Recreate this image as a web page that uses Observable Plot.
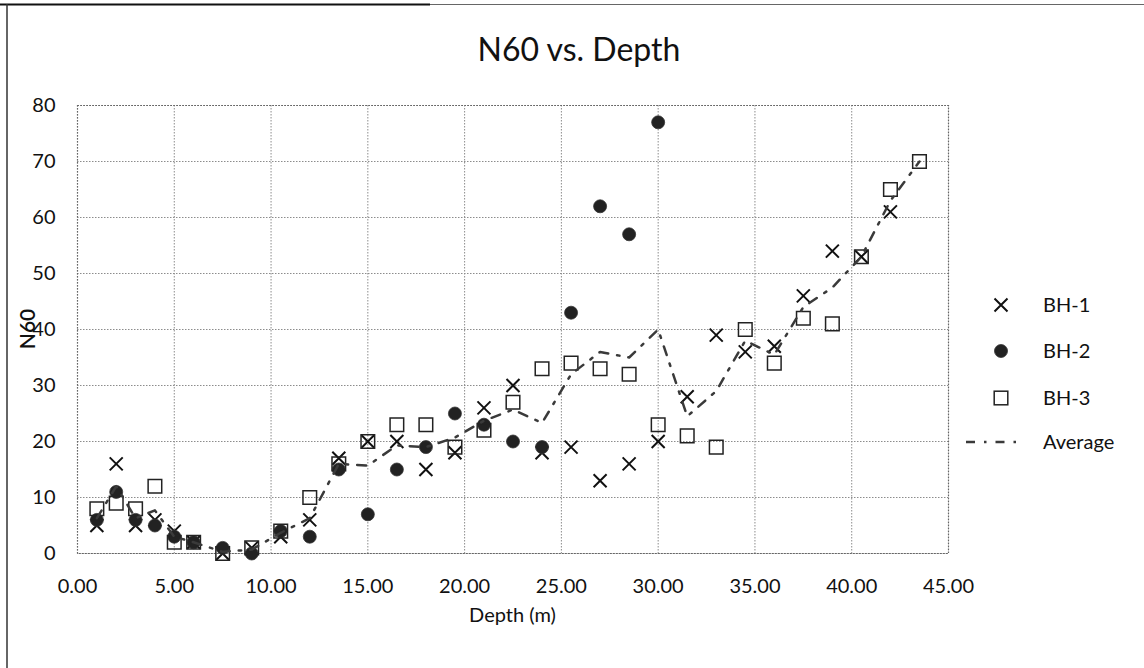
<!DOCTYPE html>
<html><head><meta charset="utf-8">
<script src="https://cdn.jsdelivr.net/npm/d3@7"></script>
<script src="https://cdn.jsdelivr.net/npm/@observablehq/plot@0.6"></script>
<style>
body{margin:0;background:#fff;}
#wrap{position:relative;width:1144px;height:668px;overflow:hidden;background:#fff;}
#wrap svg{position:absolute;left:0;top:0;}
</style></head>
<body><div id="wrap"></div>
<script>
// Data
const depths = [1,2,3,4,5,6,7.5,9,10.5,12,13.5,15,16.5,18,19.5,21,22.5,24,25.5,27,28.5,30,31.5,33,34.5,36,37.5,39,40.5,42,43.5];
const bh1 = [5,16,5,6,4,2,0,1,3,6,17,20,20,15,18,26,30,18,19,13,16,20,28,39,36,37,46,54,53,61,null];
const bh2 = [6,11,6,5,3,2,1,0,4,3,15,7,15,19,25,23,20,19,43,62,57,77];
const bh3 = [8,9,8,12,2,2,0,1,4,10,16,20,23,23,19,22,27,33,34,33,32,23,21,19,40,34,42,41,53,65,70];
const avg = [6.3,12,6.3,7.7,3,2,0.3,0.7,3.7,6.3,16,15.7,19.3,19,20.7,23.7,25.7,23.3,32,36,35,40,24.5,29,38,35.5,44,47.5,53,63,70];
const xTicks = [0,5,10,15,20,25,30,35,40,45];
const yTicks = [0,10,20,30,40,50,60,70,80];
const seriesNames = ["BH-1","BH-2","BH-3","Average"];
const titleText = "N60 vs. Depth";
const xLabel = "Depth (m)";
const yLabel = "N60";

const rows = (vals) => depths.map((d,i)=>({depth:d, n:vals[i]})).filter(r=>r.n!=null && r.n!==undefined);

const timesSym = {draw(ctx,size){const r=Math.sqrt(size/Math.PI); ctx.moveTo(-r,-r);ctx.lineTo(r,r);ctx.moveTo(r,-r);ctx.lineTo(-r,r);}};
const squareSym = {draw(ctx,size){const r=Math.sqrt(size/Math.PI); ctx.moveTo(-r,-r);ctx.lineTo(r,-r);ctx.lineTo(r,r);ctx.lineTo(-r,r);ctx.closePath();}};

const FONT = "Lato, 'Open Sans', sans-serif";
const DASH = "9,9,2.5,9";

const chart = Plot.plot({
  width:1144, height:668,
  marginLeft:77, marginRight:196, marginTop:105, marginBottom:115,
  style:{fontFamily:FONT, fontSize:"20px", color:"#111", background:"transparent", overflow:"visible"},
  x:{domain:[0,45]},
  y:{domain:[0,80]},
  marks:[
    Plot.gridX(xTicks,{stroke:"#8c8c8c", strokeOpacity:1, strokeDasharray:"1.5,1.5", strokeWidth:1}),
    Plot.gridY(yTicks,{stroke:"#8c8c8c", strokeOpacity:1, strokeDasharray:"1.5,1.5", strokeWidth:1}),
    Plot.frame({stroke:"#666", strokeDasharray:"1.5,1.5", strokeWidth:1.2}),
    Plot.axisX(xTicks,{tickSize:0, tickPadding:25, tickFormat:d=>d.toFixed(2), label:null, fontSize:20}),
    Plot.axisY(yTicks,{tickSize:0, tickPadding:22, label:null, fontSize:20}),
    Plot.dot(rows(bh1),{x:"depth", y:"n", symbol:timesSym, r:6.5, fill:"none", stroke:"#111", strokeWidth:2}),
    Plot.dot(rows(bh2),{x:"depth", y:"n", symbol:"circle", r:6.5, fill:"#222", stroke:"#333", strokeWidth:0.8}),
    Plot.dot(rows(bh3),{x:"depth", y:"n", symbol:squareSym, r:6.8, fill:"none", stroke:"#222", strokeWidth:1.5}),
    Plot.line(rows(avg),{x:"depth", y:"n", stroke:"#3a3a3a", strokeWidth:2.5, strokeDasharray:DASH})
  ]
});
const wrap = document.getElementById("wrap");
wrap.appendChild(chart);

// overlay: title, axis titles, legend, outer border
const svg = d3.select(wrap).append("svg").attr("width",1144).attr("height",668)
  .style("font-family",FONT).style("pointer-events","none");
svg.append("line").attr("x1",0).attr("x2",430).attr("y1",4.5).attr("y2",4.5).attr("stroke","#111").attr("stroke-width",2);
svg.append("line").attr("x1",430).attr("x2",1144).attr("y1",4.5).attr("y2",4.5).attr("stroke","#666").attr("stroke-width",1);
svg.append("line").attr("x1",7).attr("x2",7).attr("y1",4).attr("y2",668).attr("stroke","#333").attr("stroke-width",1.5);

svg.append("text").attr("x",579).attr("y",60.5).attr("text-anchor","middle")
  .attr("font-size",32).attr("fill","#111").text(titleText);
svg.append("text").attr("x",512.5).attr("y",622).attr("text-anchor","middle")
  .attr("font-size",20).attr("fill","#111").text(xLabel);
svg.append("text").attr("transform","translate(35,329) rotate(-90)").attr("text-anchor","middle")
  .attr("font-size",21).attr("font-weight",600).attr("fill","#111").text(yLabel);

const lx = 1001, tx = 1043;
const ly = [305,351,398,442];
const g = svg.append("g");
// BH-1
g.append("path").attr("d",timesSym && (()=>{const p=d3.path(); const r=6.5; p.moveTo(lx-r,ly[0]-r);p.lineTo(lx+r,ly[0]+r);p.moveTo(lx+r,ly[0]-r);p.lineTo(lx-r,ly[0]+r);return p.toString();})())
  .attr("stroke","#111").attr("stroke-width",2).attr("fill","none");
g.append("circle").attr("cx",lx).attr("cy",ly[1]).attr("r",6.5).attr("fill","#222").attr("stroke","#333").attr("stroke-width",0.8);
g.append("rect").attr("x",lx-6.8).attr("y",ly[2]-6.8).attr("width",13.6).attr("height",13.6).attr("fill","none").attr("stroke","#222").attr("stroke-width",1.5);
g.append("line").attr("x1",966).attr("x2",1020).attr("y1",ly[3]).attr("y2",ly[3]).attr("stroke","#3a3a3a").attr("stroke-width",2.5).attr("stroke-dasharray",DASH);
seriesNames.forEach((s,i)=>{
  g.append("text").attr("x",tx).attr("y",ly[i]+7.2).attr("font-size",20).attr("fill","#111").text(s);
});
</script>
</body></html>
